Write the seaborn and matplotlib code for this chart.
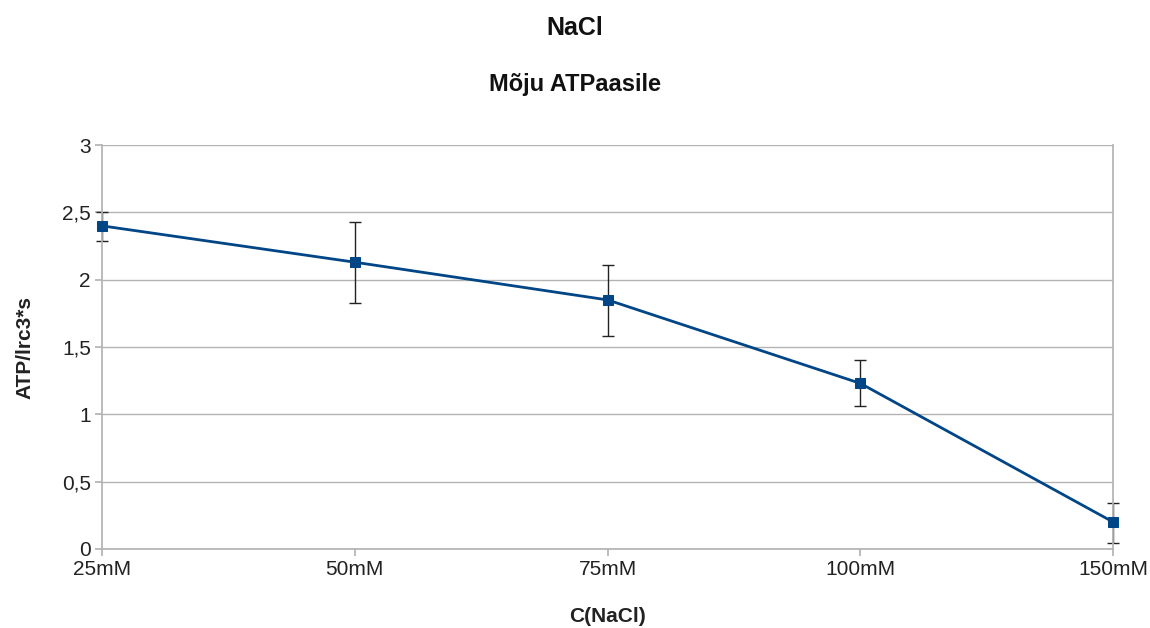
import matplotlib
matplotlib.use("Agg")
import matplotlib.pyplot as plt
import seaborn as sns
import pandas as pd
import numpy as np

categories = ["25mM", "50mM", "75mM", "100mM", "150mM"]
values = [2.40, 2.13, 1.85, 1.23, 0.20]
err_low = [2.29, 1.83, 1.58, 1.06, 0.045]
err_high = [2.50, 2.43, 2.11, 1.40, 0.34]

sns.set_theme(style="white")
plt.rcParams['font.family'] = ['Liberation Sans', 'DejaVu Sans']

df = pd.DataFrame({"cat": categories, "val": values, "pos": np.arange(len(categories))})

fig = plt.figure(figsize=(11.5, 6.28), dpi=100)
ax = fig.add_axes([0.0887, 0.1258, 0.968 - 0.0887, 0.769 - 0.1258])

sns.lineplot(data=df, x="pos", y="val", ax=ax, color="#004586", linewidth=2,
             marker="s", markersize=7.5, markeredgecolor="#004586", zorder=3,
             clip_on=False)
yerr = np.array([np.array(values) - np.array(err_low), np.array(err_high) - np.array(values)])
eb = ax.errorbar(df["pos"], df["val"], yerr=yerr, fmt="none", ecolor="#222222",
                 elinewidth=1, capsize=4, capthick=1, zorder=2)
for art in eb.lines[1] + eb.lines[2]:
    art.set_clip_on(False)

ax.set_xlim(0, len(categories) - 1)
ax.set_ylim(0, 3)
ax.set_xticks(df["pos"])
ax.set_xticklabels(categories)
ax.set_yticks([0, 0.5, 1, 1.5, 2, 2.5, 3])
ax.set_yticklabels(["0", "0,5", "1", "1,5", "2", "2,5", "3"])
ax.yaxis.grid(True, color="#b3b3b3", linewidth=1)
ax.xaxis.grid(False)
for s in ["left", "bottom", "right"]:
    ax.spines[s].set_visible(True)
    ax.spines[s].set_color("#b3b3b3")
ax.spines["top"].set_visible(False)
ax.tick_params(axis="both", which="both", length=5, color="#b3b3b3", labelsize=15,
               labelcolor="#222222", direction="out", left=True, bottom=True)
ax.tick_params(axis="x", pad=3)
ax.tick_params(axis="y", pad=3)

ax.set_xlabel("C(NaCl)", fontsize=15, fontweight="bold", color="#222222", labelpad=20)
ax.set_ylabel("ATP/lrc3*s", fontsize=15, fontweight="bold", color="#222222", labelpad=20)

fig.text(0.5, 1 - 28 / 628, "NaCl", ha="center", va="center", fontsize=18,
         fontweight="bold", color="#111111")
fig.text(0.5, 1 - 85 / 628, "Mõju ATPaasile", ha="center", va="center", fontsize=17,
         fontweight="bold", color="#111111")

fig.savefig("out.png", dpi=100, facecolor="white")
